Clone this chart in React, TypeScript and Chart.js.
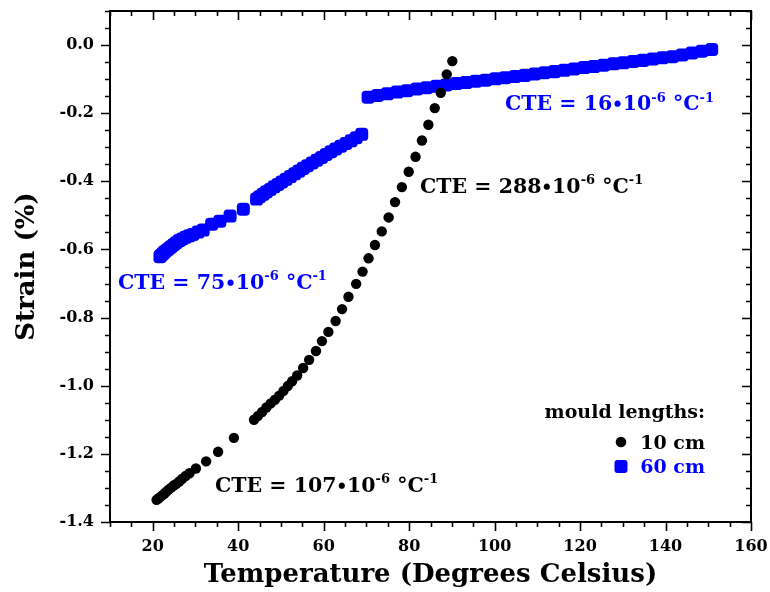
import { useEffect, useRef } from "react";
import { Chart, registerables } from "chart.js";

Chart.register(...registerables);

// 10 cm mould: temperature (°C) and strain (%)
const temp10cm = [
  20.9, 21.3, 21.7, 22.2, 22.7, 23.2, 23.7, 24.3, 24.9, 25.5, 26.2, 26.9, 27.7, 28.6,
  30.1, 32.5, 35.3, 39.0, 43.7, 44.6, 45.6, 46.6, 47.6, 48.6, 49.6, 50.6, 51.6, 52.6,
  53.8, 55.2, 56.6, 58.2, 59.6, 61.1, 62.8, 64.3, 65.8, 67.6, 69.1, 70.5, 72.0, 73.6,
  75.2, 76.7, 78.3, 79.9, 81.5, 83.0, 84.5, 86.0, 87.4, 88.8, 90.1,
];
const strain10cm = [
  -1.335, -1.331, -1.327, -1.322, -1.317, -1.311, -1.305, -1.299, -1.293, -1.288, -1.281,
  -1.273, -1.265, -1.257, -1.243, -1.222, -1.194, -1.153, -1.1, -1.089, -1.077, -1.064,
  -1.052, -1.041, -1.029, -1.015, -1.001, -0.987, -0.97, -0.948, -0.924, -0.898, -0.869,
  -0.842, -0.81, -0.775, -0.739, -0.701, -0.665, -0.626, -0.587, -0.547, -0.506, -0.461,
  -0.417, -0.372, -0.328, -0.28, -0.234, -0.185, -0.14, -0.086, -0.047,
];

// 60 cm mould: temperature (°C) and strain (%)
const temp60cm = [
  21.7, 22.0, 22.4, 22.8, 23.3, 23.8, 24.3, 24.9, 25.5, 26.2, 26.9, 27.7, 28.5, 29.4,
  30.6, 31.8, 33.8, 35.7, 38.1, 41.2,
  44.3, 45.0, 45.8, 46.6, 47.5, 48.4, 49.3, 50.2, 51.2, 52.2, 53.2, 54.2, 55.2, 56.2,
  57.3, 58.4, 59.5, 60.6, 61.7, 62.8, 64.0, 65.2, 66.4, 67.6, 68.9,
  70.4, 72.6, 74.9, 77.2, 79.5, 81.8, 84.1, 86.4, 88.7, 91.0, 93.3, 95.6, 97.9, 100.2,
  102.5, 104.8, 107.1, 109.4, 111.7, 114.0, 116.3, 118.6, 120.9, 123.2, 125.5, 127.8,
  130.1, 132.4, 134.7, 137.0, 139.3, 141.6, 143.9, 146.2, 148.5, 150.8,
];
const strain60cm = [
  -0.621, -0.617, -0.612, -0.607, -0.602, -0.597, -0.592, -0.586, -0.58, -0.574, -0.569,
  -0.564, -0.56, -0.556, -0.549, -0.543, -0.526, -0.517, -0.502, -0.482,
  -0.452, -0.445, -0.438, -0.431, -0.424, -0.416, -0.409, -0.402, -0.394, -0.386, -0.378,
  -0.37, -0.362, -0.354, -0.346, -0.338, -0.33, -0.321, -0.313, -0.305, -0.297, -0.289,
  -0.281, -0.272, -0.262,
  -0.153, -0.148, -0.143, -0.138, -0.134, -0.129, -0.125, -0.121, -0.117, -0.113, -0.11,
  -0.106, -0.103, -0.099, -0.096, -0.092, -0.089, -0.085, -0.081, -0.078, -0.074, -0.07,
  -0.066, -0.063, -0.059, -0.055, -0.052, -0.048, -0.045, -0.041, -0.037, -0.034, -0.029,
  -0.023, -0.018, -0.013,
];

const seriesNames = ["10 cm", "60 cm"];
const xTickValues = [20, 40, 60, 80, 100, 120, 140, 160];
const yTickValues = [0.0, -0.2, -0.4, -0.6, -0.8, -1.0, -1.2, -1.4];

// Fitted expansion coefficients (×10⁻⁶ °C⁻¹) and where each is written
const cteValues = [75, 107, 288, 16];
const cteAnchorX = [11.87, 34.57, 82.55, 102.44];
const cteAnchorY = [-0.716, -1.312, -0.434, -0.191];
const cteSeries = [1, 0, 0, 1];

const FONT = '"DejaVu Serif", serif';
const BLUE = "#0000ff";
const BLACK = "#000000";
const seriesColors = [BLACK, BLUE];

type Part = { t: string; sup?: boolean };

function drawRich(ctx: CanvasRenderingContext2D, x: number, y: number, parts: Part[], size: number, align: "left" | "right") {
  const supSize = Math.round(size * 0.62);
  const widths = parts.map((p) => {
    ctx.font = `bold ${p.sup ? supSize : size}px ${FONT}`;
    return ctx.measureText(p.t).width;
  });
  const total = widths.reduce((a, b) => a + b, 0);
  let cx = align === "left" ? x : x - total;
  ctx.textAlign = "left";
  ctx.textBaseline = "alphabetic";
  parts.forEach((p, i) => {
    ctx.font = `bold ${p.sup ? supSize : size}px ${FONT}`;
    ctx.fillText(p.t, cx, p.sup ? y - size * 0.42 : y);
    cx += widths[i];
  });
}

// Keep the plot box fixed: labels sit outside it, so no extra scale padding
const noScalePadding = (s: any) => {
  s.paddingTop = 0;
  s.paddingBottom = 0;
  s.paddingLeft = 0;
  s.paddingRight = 0;
};

const framePlugin = {
  id: "frameAndNotes",
  afterDatasetsDraw(chart: any) {
    const { ctx, chartArea } = chart;
    const { left, right, top, bottom } = chartArea;
    const xs = chart.scales.x;
    const ys = chart.scales.y;
    ctx.save();

    // frame
    ctx.strokeStyle = BLACK;
    ctx.lineWidth = 2;
    ctx.strokeRect(left, top, right - left, bottom - top);

    // major and minor ticks: outward on left/bottom, inward on top/right
    ctx.lineWidth = 1.6;
    ctx.beginPath();
    for (let v = 10; v <= 160; v += 5) {
      const px = Math.round(xs.getPixelForValue(v)) + 0.5;
      const len = v % 20 === 0 ? 9 : 5;
      ctx.moveTo(px, bottom);
      ctx.lineTo(px, bottom + len);
      ctx.moveTo(px, top);
      ctx.lineTo(px, top + len);
    }
    for (let i = -28; i <= 2; i++) {
      const py = Math.round(ys.getPixelForValue(i * 0.05)) + 0.5;
      const len = i % 4 === 0 ? 9 : 5;
      ctx.moveTo(left - len, py);
      ctx.lineTo(left, py);
      ctx.moveTo(right - len, py);
      ctx.lineTo(right, py);
    }
    ctx.stroke();

    // CTE annotations
    cteValues.forEach((c, i) => {
      ctx.fillStyle = seriesColors[cteSeries[i]];
      drawRich(
        ctx,
        xs.getPixelForValue(cteAnchorX[i]),
        ys.getPixelForValue(cteAnchorY[i]),
        [
          { t: `CTE = ${c}∙10` },
          { t: "-6", sup: true },
          { t: " °C" },
          { t: "-1", sup: true },
        ],
        20.5,
        "left"
      );
    });

    // legend
    const textRight = right - 46;
    ctx.fillStyle = BLACK;
    ctx.font = `bold 19px ${FONT}`;
    ctx.textAlign = "right";
    ctx.textBaseline = "alphabetic";
    ctx.fillText("mould lengths:", textRight, bottom - 104);
    const mx = right - 130;
    seriesNames.forEach((name, i) => {
      const rowY = bottom - 80 + i * 24.5;
      ctx.fillStyle = seriesColors[i];
      ctx.beginPath();
      if (i === 0) {
        ctx.arc(mx, rowY, 5.3, 0, Math.PI * 2);
      } else {
        ctx.roundRect(mx - 6.5, rowY - 6.5, 13, 13, 3);
      }
      ctx.fill();
      ctx.font = `bold 19px ${FONT}`;
      ctx.textAlign = "right";
      ctx.fillText(name, textRight, rowY + 6.5);
    });
    ctx.restore();
  },
};

export default function App() {
  const canvasRef = useRef<HTMLCanvasElement | null>(null);

  useEffect(() => {
    const canvas = canvasRef.current;
    if (!canvas) return;
    const tickFont = { family: FONT, size: 16, weight: "bold" as const };
    const titleFont = { family: FONT, size: 26, weight: "bold" as const, lineHeight: 1.2 };
    const chart = new Chart(canvas, {
      type: "scatter",
      data: {
        datasets: [
          {
            label: seriesNames[0],
            data: temp10cm.map((t, i) => ({ x: t, y: strain10cm[i] })),
            pointStyle: "circle",
            pointRadius: 5.2,
            backgroundColor: BLACK,
            borderWidth: 0,
          },
          {
            label: seriesNames[1],
            data: temp60cm.map((t, i) => ({ x: t, y: strain60cm[i] })),
            pointStyle: "rectRounded",
            pointRadius: 7.6,
            backgroundColor: BLUE,
            borderWidth: 0,
          },
        ],
      },
      options: {
        animation: false,
        responsive: false,
        devicePixelRatio: 1,
        layout: { padding: { left: 0, top: 11, right: 19, bottom: 0 } },
        plugins: { legend: { display: false }, tooltip: { enabled: false } },
        scales: {
          x: {
            type: "linear",
            min: 10,
            max: 160,
            afterBuildTicks: (s: any) => {
              s.ticks = xTickValues.map((v) => ({ value: v }));
            },
            afterFit: (s: any) => {
              s.height = 70;
              noScalePadding(s);
            },
            grid: { display: false, drawTicks: false },
            border: { display: false },
            ticks: {
              padding: 15,
              color: BLACK,
              font: tickFont,
              maxRotation: 0,
              autoSkip: false,
              callback: (v: any) => String(v),
            },
            title: {
              display: true,
              text: "Temperature (Degrees Celsius)",
              color: BLACK,
              font: titleFont,
              padding: { top: 0, bottom: 1 },
            },
          },
          y: {
            type: "linear",
            min: -1.4,
            max: 0.1,
            afterBuildTicks: (s: any) => {
              s.ticks = yTickValues.map((v) => ({ value: v }));
            },
            afterFit: (s: any) => {
              s.width = 110;
              noScalePadding(s);
            },
            grid: { display: false, drawTicks: false },
            border: { display: false },
            ticks: {
              padding: 16,
              color: BLACK,
              font: tickFont,
              autoSkip: false,
              callback: (v: any) => (Math.abs(Number(v)) < 1e-9 ? "0.0" : Number(v).toFixed(1)),
            },
            title: {
              display: true,
              text: "Strain (%)",
              color: BLACK,
              font: titleFont,
              padding: { top: 12, bottom: 0 },
            },
          },
        },
      },
      plugins: [framePlugin],
    });
    return () => chart.destroy();
  }, []);

  return (
    <div style={{ position: "fixed", left: 0, top: 0, width: 770, height: 592, background: "#fff" }}>
      <canvas ref={canvasRef} width={770} height={592} style={{ display: "block" }} />
    </div>
  );
}
